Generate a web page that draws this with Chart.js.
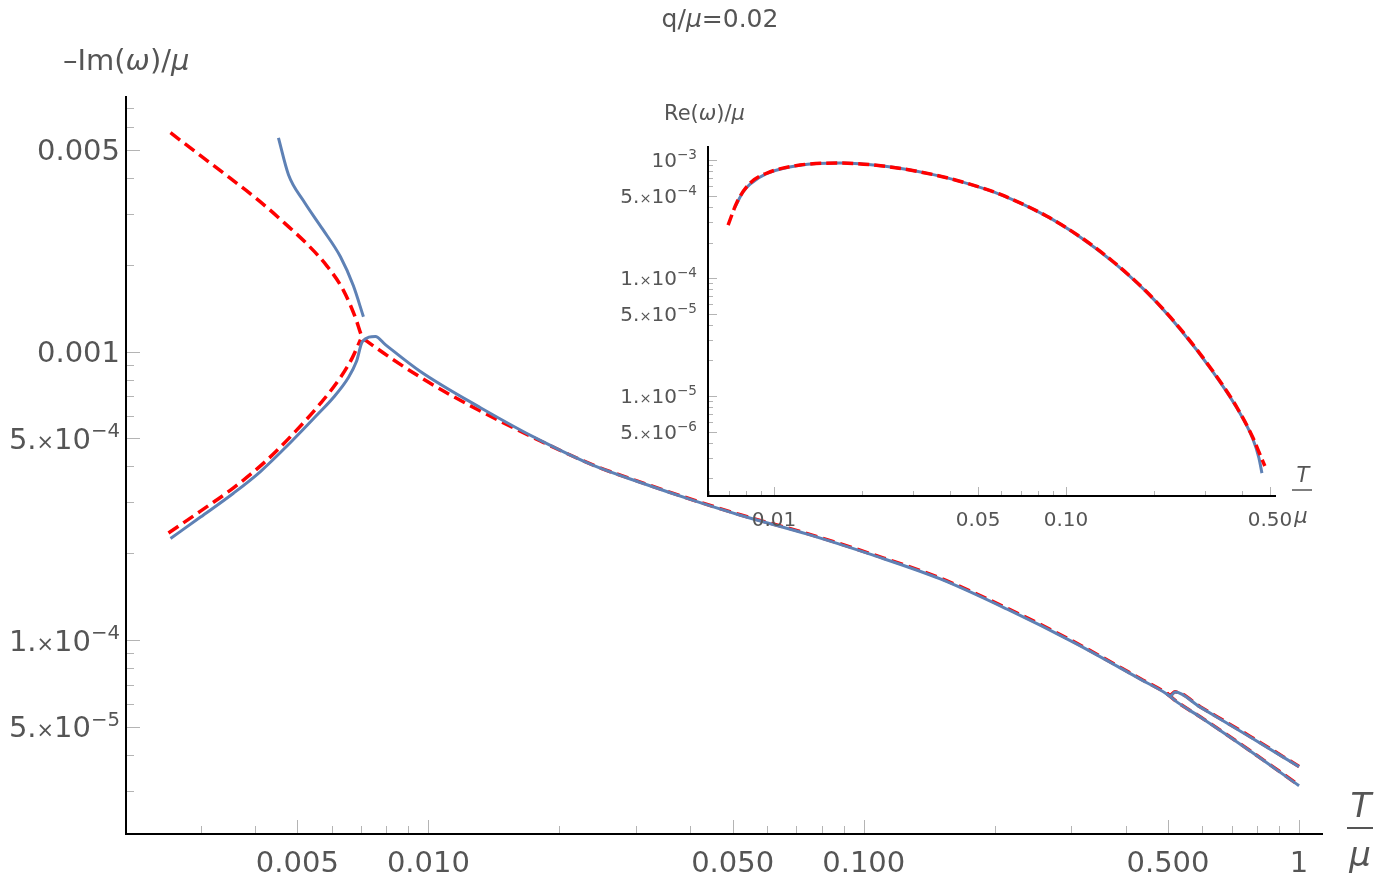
<!DOCTYPE html>
<html>
<head>
<meta charset="utf-8">
<script src="https://cdn.jsdelivr.net/npm/chart.js@4.4.0/dist/chart.umd.min.js"></script>
<style>
  body { margin: 0; background: #fff; }
  #wrap { position: relative; width: 1380px; height: 888px; }
  #main { position: absolute; left: 0; top: 0; }
  #inset { position: absolute; left: 590px; top: 90px; }
</style>
</head>
<body>
<div id="wrap">
  <canvas id="main" width="1380" height="888"></canvas>
  <canvas id="inset" width="790" height="450"></canvas>
</div>
<script>
// main plot: -Im(w)/mu against T/mu
const blueMainT = [0.002556, 0.002996, 0.003566, 0.004113, 0.004822, 0.005561, 0.006050, 0.006551, 0.006834, 0.007056,
  0.007553, 0.007963, 0.009585, 0.01317, 0.01808, 0.02393, 0.03117, 0.04059, 0.05204, 0.07420, 0.1051, 0.1499, 0.2136,
  0.3028, 0.4314, 0.4975, 0.5246, 0.5925, 0.772, 1.0];
const blueMainIm = [2.25e-4, 2.67e-4, 3.23e-4, 3.84e-4, 4.84e-4, 6.05e-4, 6.93e-4, 8.13e-4, 9.23e-4, 1.083e-3,
  1.127e-3, 1.057e-3, 8.53e-4, 6.39e-4, 4.92e-4, 4.03e-4, 3.49e-4, 3.05e-4, 2.71e-4, 2.33e-4, 1.97e-4, 1.63e-4, 1.28e-4,
  9.84e-5, 7.33e-5, 6.50e-5, 6.10e-5, 5.42e-5, 4.13e-5, 3.13e-5];
const blueTopT = [0.004524, 0.004771, 0.005164, 0.005710, 0.006280, 0.006725, 0.007092];
const blueTopIm = [5.50e-3, 4.10e-3, 3.33e-3, 2.66e-3, 2.13e-3, 1.69e-3, 1.32e-3];
const blueForkT = [0.4975, 0.5056, 0.5190, 0.5925, 0.772, 1.0];
const blueForkIm = [6.50e-5, 6.40e-5, 6.61e-5, 5.86e-5, 4.62e-5, 3.64e-5];

const redMainT = [0.002556, 0.002996, 0.003511, 0.004113, 0.004694, 0.005275, 0.005862, 0.006380, 0.006799, 0.007056,
  0.007244, 0.009947, 0.01296, 0.01808, 0.02393, 0.03117, 0.04059, 0.05204, 0.07420, 0.1051, 0.1499, 0.2136, 0.3028,
  0.4314, 0.4975, 0.5246, 0.5925, 0.772, 1.0];
const redMainIm = [5.73e-3, 4.77e-3, 3.98e-3, 3.30e-3, 2.77e-3, 2.35e-3, 1.97e-3, 1.63e-3, 1.31e-3, 1.118e-3,
  1.083e-3, 7.87e-4, 6.30e-4, 4.90e-4, 4.04e-4, 3.50e-4, 3.06e-4, 2.72e-4, 2.34e-4, 1.98e-4, 1.64e-4, 1.29e-4, 9.90e-5,
  7.36e-5, 6.52e-5, 6.11e-5, 5.43e-5, 4.14e-5, 3.14e-5];
const redLowT = [0.002529, 0.002996, 0.003566, 0.004223, 0.004950, 0.005649, 0.006280, 0.006690, 0.006982];
const redLowIm = [2.35e-4, 2.80e-4, 3.37e-4, 4.16e-4, 5.29e-4, 6.61e-4, 8.13e-4, 9.53e-4, 1.10e-3];
const redForkT = [0.4975, 0.5056, 0.5190, 0.5925, 0.772, 1.0];
const redForkIm = [6.55e-5, 6.45e-5, 6.62e-5, 5.88e-5, 4.64e-5, 3.65e-5];

// inset: Re(w)/mu against T/mu
const blueReT = [0.00735, 0.00783, 0.00828, 0.00946, 0.01227, 0.01683, 0.0236, 0.0351, 0.0458, 0.0594, 0.0861, 0.1117,
  0.1449, 0.1893, 0.2457, 0.3188, 0.385, 0.437, 0.458, 0.469];
const blueRe = [4.0e-4, 5.36e-4, 6.26e-4, 7.72e-4, 9.05e-4, 9.42e-4, 8.89e-4, 7.52e-4, 6.34e-4, 5.12e-4, 3.33e-4, 2.23e-4,
  1.37e-4, 7.55e-5, 3.70e-5, 1.60e-5, 7.9e-6, 4.30e-6, 2.99e-6, 2.22e-6];
const redReT = [0.00696, 0.00747, 0.00828, 0.00946, 0.01227, 0.01683, 0.0236, 0.0351, 0.0458, 0.0594, 0.0861, 0.1117,
  0.1449, 0.1893, 0.2457, 0.3188, 0.385, 0.437, 0.458, 0.480];
const redRe = [2.81e-4, 4.41e-4, 6.38e-4, 7.76e-4, 9.07e-4, 9.43e-4, 8.90e-4, 7.53e-4, 6.35e-4, 5.13e-4, 3.34e-4, 2.24e-4,
  1.38e-4, 7.60e-5, 3.74e-5, 1.62e-5, 8.02e-6, 4.43e-6, 3.35e-6, 2.55e-6];

// ticks
const mainTTicks = [0.005, 0.01, 0.05, 0.1, 0.5, 1];
const mainTLabels = ['0.005', '0.010', '0.050', '0.100', '0.500', '1'];
const mainImTicks = [5e-5, 1e-4, 5e-4, 1e-3, 5e-3];
const mainImLabels = ['5.×10^−5', '1.×10^−4', '5.×10^−4', '0.001', '0.005'];
const insetTTicks = [0.01, 0.05, 0.1, 0.5];
const insetTLabels = ['0.01', '0.05', '0.10', '0.50'];
const insetReTicks = [5e-6, 1e-5, 5e-5, 1e-4, 5e-4, 1e-3];
const insetReLabels = ['5.×10^−6', '1.×10^−5', '5.×10^−5', '1.×10^−4', '5.×10^−4', '10^−3'];

const blue = '#5E81B5';
const red = '#FF0000';
const grey = '#555555';
const FONT = '"DejaVu Sans", sans-serif';

function series(t, v, color, width, dash) {
  return {
    data: t.map((x, i) => ({ x: x, y: v[i] })),
    borderColor: color,
    borderWidth: width,
    borderDash: dash || [],
    borderCapStyle: 'butt',
    pointRadius: 0,
    fill: false,
    cubicInterpolationMode: 'monotone'
  };
}

function minorTicks(min, max, majors) {
  const out = [];
  for (let e = Math.floor(Math.log10(min)); e <= Math.ceil(Math.log10(max)); e++) {
    for (let m = 1; m < 10; m++) {
      const v = m * Math.pow(10, e);
      if (v >= min && v <= max && !majors.some(t => Math.abs(t / v - 1) < 1e-6)) out.push(v);
    }
  }
  return out;
}

// text made of runs with their own size / slant / raise
function drawRuns(ctx, runs, x, y, size, align) {
  const fonts = runs.map(r => (r.it ? 'italic ' : '') + (size * (r.k || 1)).toFixed(1) + 'px ' + FONT);
  const widths = runs.map((r, i) => { ctx.font = fonts[i]; return ctx.measureText(r.t).width; });
  const total = widths.reduce((a, b) => a + b, 0);
  let cx = align === 'right' ? x - total : align === 'center' ? x - total / 2 : x;
  runs.forEach((r, i) => {
    ctx.font = fonts[i];
    ctx.fillText(r.t, cx, y - (r.up || 0) * size);
    cx += widths[i];
  });
}

function sciRuns(label) {
  const [base, exp] = label.split('^');
  if (!exp) return [{ t: base }];
  const runs = [];
  const i = base.indexOf('×');
  if (i >= 0) runs.push({ t: base.slice(0, i) }, { t: '×', k: 0.72 }, { t: base.slice(i + 1) });
  else runs.push({ t: base });
  runs.push({ t: exp, k: 0.68, up: 0.4 });
  return runs;
}

const logTicks = {
  id: 'logTicks',
  afterDraw(chart, args, o) {
    const ctx = chart.ctx, a = chart.chartArea;
    const xs = chart.scales.x, ys = chart.scales.y;
    ctx.save();
    ctx.strokeStyle = '#b4b4b4';
    ctx.lineWidth = 1;
    ctx.beginPath();
    const mark = (scale, values, len) => values.forEach(v => {
      const p = Math.round(scale.getPixelForValue(v)) + 0.5;
      if (scale === xs) { ctx.moveTo(p, a.bottom - 1); ctx.lineTo(p, a.bottom - 1 - len); }
      else { ctx.moveTo(a.left + 1, p); ctx.lineTo(a.left + 1 + len, p); }
    });
    mark(xs, o.xMajor, o.major);
    mark(xs, minorTicks(xs.min, xs.max, o.xMajor), o.minor);
    mark(ys, o.yMajor, o.major);
    mark(ys, minorTicks(ys.min, ys.max, o.yMajor), o.minor);
    ctx.stroke();

    ctx.fillStyle = grey;
    ctx.textBaseline = 'alphabetic';
    o.yMajor.forEach((v, i) => {
      const p = ys.getPixelForValue(v);
      drawRuns(ctx, sciRuns(o.yLabels[i]), a.left - o.gap, p + o.size * 0.36, o.size, 'right');
    });

    o.texts.forEach(tx => drawRuns(ctx, tx.runs, tx.x, tx.y, tx.size, tx.align));
    ctx.strokeStyle = grey;
    ctx.lineWidth = o.barWidth;
    ctx.beginPath();
    ctx.moveTo(o.bar[0], o.bar[2]);
    ctx.lineTo(o.bar[1], o.bar[2]);
    ctx.stroke();
    ctx.restore();
  }
};

function logScales(tMin, tMax, vMin, vMax, tTicks, tLabels, yWidth, xHeight, size, pad) {
  return {
    x: {
      type: 'logarithmic', min: tMin, max: tMax,
      afterFit: s => { s.height = xHeight; },
      afterBuildTicks: s => { s.ticks = tTicks.map(v => ({ value: v })); },
      grid: { display: false, drawTicks: false },
      border: { display: true, color: '#000', width: 2 },
      ticks: {
        autoSkip: false, maxRotation: 0, padding: pad, color: grey,
        font: { family: FONT, size: size },
        callback: (v, i) => tLabels[i]
      }
    },
    y: {
      type: 'logarithmic', min: vMin, max: vMax,
      afterFit: s => { s.width = yWidth; },
      grid: { display: false, drawTicks: false },
      border: { display: true, color: '#000', width: 2 },
      ticks: { display: false }
    }
  };
}

new Chart(document.getElementById('main'), {
  type: 'line',
  data: {
    datasets: [
      series(blueMainT, blueMainIm, blue, 3),
      series(blueTopT, blueTopIm, blue, 3),
      series(blueForkT, blueForkIm, blue, 3),
      series(redMainT, redMainIm, red, 3.5, [12, 6]),
      series(redLowT, redLowIm, red, 3.5, [12, 6]),
      series(redForkT, redForkIm, red, 3.5, [12, 6])
    ]
  },
  options: {
    responsive: false, animation: false, devicePixelRatio: 1,
    layout: { padding: { top: 97, right: 58, left: 0, bottom: 0 } },
    scales: logScales(0.00202, 1.129, 2.13e-5, 7.62e-3, mainTTicks, mainTLabels, 126, 54, 29, 13),
    plugins: {
      legend: { display: false },
      tooltip: { enabled: false },
      logTicks: {
        xMajor: mainTTicks, yMajor: mainImTicks, yLabels: mainImLabels,
        major: 13, minor: 7, size: 29, gap: 6,
        texts: [
          { runs: [{ t: 'q/' }, { t: 'μ', it: true }, { t: '=0.02' }], x: 720, y: 27, size: 25, align: 'center' },
          { runs: [{ t: '–Im(' }, { t: 'ω', it: true }, { t: ')/' }, { t: 'μ', it: true }], x: 63, y: 70, size: 29, align: 'left' },
          { runs: [{ t: 'T', it: true }], x: 1361, y: 817, size: 34, align: 'center' },
          { runs: [{ t: 'μ', it: true }], x: 1360, y: 866, size: 34, align: 'center' }
        ],
        bar: [1347, 1373, 828], barWidth: 2
      }
    }
  },
  plugins: [logTicks]
});

new Chart(document.getElementById('inset'), {
  type: 'line',
  data: {
    datasets: [
      series(redReT, redRe, red, 3.5, [11, 5]),
      series(blueReT, blueRe, blue, 3)
    ]
  },
  options: {
    responsive: false, animation: false, devicePixelRatio: 1,
    layout: { padding: { top: 57, right: 105, left: 0, bottom: 0 } },
    scales: logScales(0.00594, 0.52, 1.42e-6, 1.29e-3, insetTTicks, insetTLabels, 118, 44, 20, 13),
    plugins: {
      legend: { display: false },
      tooltip: { enabled: false },
      logTicks: {
        xMajor: insetTTicks, yMajor: insetReTicks, yLabels: insetReLabels,
        major: 8, minor: 4, size: 20, gap: 11,
        texts: [
          { runs: [{ t: 'Re(' }, { t: 'ω', it: true }, { t: ')/' }, { t: 'μ', it: true }], x: 74, y: 30, size: 21, align: 'left' },
          { runs: [{ t: 'T', it: true }], x: 713, y: 392, size: 21, align: 'center' },
          { runs: [{ t: 'μ', it: true }], x: 711, y: 433, size: 21, align: 'center' }
        ],
        bar: [702, 722, 400], barWidth: 1.5
      }
    }
  },
  plugins: [logTicks]
});
</script>
</body>
</html>
